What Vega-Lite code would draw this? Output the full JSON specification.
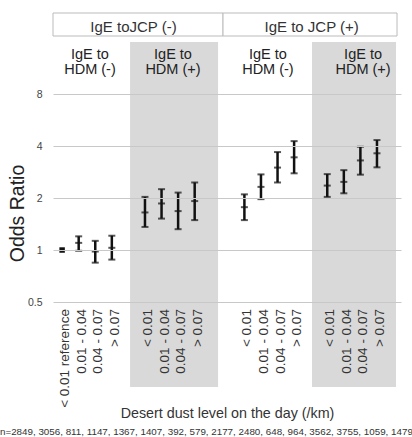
{
  "$schema": "https://vega.github.io/schema/vega-lite/v6.json",
  "width": 348,
  "height": 374,
  "autosize": {"type": "none"},
  "padding": {"left": 53, "top": 13, "right": 11, "bottom": 50},
  "background": "white",
  "config": {"view": {"stroke": null}, "font": "Liberation Sans"},
  "title": {
    "text": "n=2849, 3056, 811, 1147, 1367, 1407, 392, 579, 2177, 2480, 648, 964, 3562, 3755, 1059, 1479",
    "orient": "bottom",
    "anchor": "start",
    "frame": "group",
    "dx": -53,
    "offset": 7,
    "fontSize": 9.8,
    "fontWeight": "normal",
    "font": "Liberation Sans",
    "color": "#333"
  },
  "datasets": {
    "points": [
      {"jcp": "-", "hdm": "-", "level": "< 0.01 reference", "slot": 0, "or": 1.0, "lo": null, "hi": null},
      {"jcp": "-", "hdm": "-", "level": "0.01 - 0.04", "slot": 1, "or": 1.10, "lo": 0.99, "hi": 1.20},
      {"jcp": "-", "hdm": "-", "level": "0.04 - 0.07", "slot": 2, "or": 0.98, "lo": 0.845, "hi": 1.13},
      {"jcp": "-", "hdm": "-", "level": "> 0.07", "slot": 3, "or": 1.03, "lo": 0.88, "hi": 1.21},
      {"jcp": "-", "hdm": "+", "level": "< 0.01", "slot": 5, "or": 1.65, "lo": 1.36, "hi": 2.03},
      {"jcp": "-", "hdm": "+", "level": "0.01 - 0.04", "slot": 6, "or": 1.86, "lo": 1.52, "hi": 2.25},
      {"jcp": "-", "hdm": "+", "level": "0.04 - 0.07", "slot": 7, "or": 1.68, "lo": 1.32, "hi": 2.15},
      {"jcp": "-", "hdm": "+", "level": "> 0.07", "slot": 8, "or": 1.92, "lo": 1.49, "hi": 2.46},
      {"jcp": "+", "hdm": "-", "level": "< 0.01", "slot": 11, "or": 1.77, "lo": 1.49, "hi": 2.10},
      {"jcp": "+", "hdm": "-", "level": "0.01 - 0.04", "slot": 12, "or": 2.32, "lo": 1.97, "hi": 2.74},
      {"jcp": "+", "hdm": "-", "level": "0.04 - 0.07", "slot": 13, "or": 3.0, "lo": 2.46, "hi": 3.69},
      {"jcp": "+", "hdm": "-", "level": "> 0.07", "slot": 14, "or": 3.44, "lo": 2.78, "hi": 4.27},
      {"jcp": "+", "hdm": "+", "level": "< 0.01", "slot": 16, "or": 2.36, "lo": 2.03, "hi": 2.75},
      {"jcp": "+", "hdm": "+", "level": "0.01 - 0.04", "slot": 17, "or": 2.48, "lo": 2.13, "hi": 2.90},
      {"jcp": "+", "hdm": "+", "level": "0.04 - 0.07", "slot": 18, "or": 3.30, "lo": 2.73, "hi": 3.96},
      {"jcp": "+", "hdm": "+", "level": "> 0.07", "slot": 19, "or": 3.63, "lo": 3.01, "hi": 4.33}
    ],
    "bands": [
      {"start": 4.1, "end": 9.41},
      {"start": 15.08, "end": 20.15}
    ],
    "jcpHeaders": [
      {"label": "IgE toJCP (-)", "start": -0.55, "end": 9.71, "mid": 4.31},
      {"label": "IgE to JCP (+)", "start": 9.71, "end": 20.21, "mid": 15.06}
    ],
    "hdmHeaders": [
      {"label": "IgE to\nHDM (-)", "pos": 1.68},
      {"label": "IgE to\nHDM (+)", "pos": 6.69},
      {"label": "IgE to\nHDM (-)", "pos": 12.42},
      {"label": "IgE to\nHDM (+)", "pos": 18.16}
    ]
  },
  "layer": [
    {
      "data": {"name": "bands"},
      "mark": {"type": "rect", "color": "#d9d9d9"},
      "encoding": {
        "x": {
          "field": "start", "type": "quantitative",
          "scale": {"domain": [-0.55, 20.45], "nice": false, "zero": false},
          "axis": {
            "domain": false, "ticks": false, "labels": false, "grid": false,
            "title": "Desert dust level on the day (/km)",
            "titleFontSize": 14.3, "titleFontWeight": "normal", "titleColor": "#333",
            "titleFont": "Liberation Sans", "titlePadding": 19
          }
        },
        "x2": {"field": "end"},
        "y": {
          "datum": 0.1611, "type": "quantitative",
          "scale": {"type": "log", "domain": [0.1611, 23.55], "nice": false},
          "axis": {
            "values": [0.5, 1, 2, 4, 8],
            "domain": false, "ticks": false,
            "grid": true, "gridColor": "#c8c8c8", "gridWidth": 1,
            "labelPadding": 11, "labelFontSize": 10.5, "labelColor": "#444",
            "labelFont": "Liberation Sans",
            "title": "Odds Ratio", "titleFontSize": 19.5, "titleFontWeight": "normal",
            "titleColor": "#222", "titleFont": "Liberation Sans",
            "titleX": -35.5, "titleY": 200, "titleBaseline": "middle", "titleAlign": "center", "titleAngle": 270,
            "zindex": 1
          }
        },
        "y2": {"datum": 16}
      }
    },
    {
      "mark": {"type": "rule", "color": "#666", "strokeWidth": 1.5},
      "encoding": {"y": {"datum": 1, "type": "quantitative"}}
    },
    {
      "data": {"name": "jcpHeaders"},
      "mark": {"type": "rect", "fill": "white", "stroke": "#bbbbbb", "strokeWidth": 1},
      "encoding": {
        "x": {"field": "start", "type": "quantitative"},
        "x2": {"field": "end"},
        "y": {"datum": 17.33, "type": "quantitative"},
        "y2": {"datum": 23.55}
      }
    },
    {
      "data": {"name": "jcpHeaders"},
      "mark": {"type": "text", "fontSize": 15, "color": "#333", "baseline": "middle", "align": "center"},
      "encoding": {
        "x": {"field": "mid", "type": "quantitative"},
        "y": {"datum": 19.67, "type": "quantitative"},
        "text": {"field": "label"}
      }
    },
    {
      "data": {"name": "hdmHeaders"},
      "mark": {"type": "text", "fontSize": 14.5, "color": "#222", "baseline": "middle", "align": "center", "lineBreak": "\n", "lineHeight": 14.5},
      "encoding": {
        "x": {"field": "pos", "type": "quantitative"},
        "y": {"datum": 13.45, "type": "quantitative"},
        "text": {"field": "label"}
      }
    },
    {
      "data": {"name": "points"},
      "transform": [{"filter": "datum.lo != null"}],
      "layer": [
        {
          "mark": {"type": "rule", "color": "#111", "strokeWidth": 2.5},
          "encoding": {
            "x": {"field": "slot", "type": "quantitative"},
            "y": {"field": "lo", "type": "quantitative"},
            "y2": {"field": "hi"}
          }
        },
        {
          "mark": {"type": "tick", "orient": "horizontal", "color": "#111", "size": 7, "thickness": 2},
          "encoding": {
            "x": {"field": "slot", "type": "quantitative"},
            "y": {"field": "lo", "type": "quantitative"}
          }
        },
        {
          "mark": {"type": "tick", "orient": "horizontal", "color": "#111", "size": 7, "thickness": 2},
          "encoding": {
            "x": {"field": "slot", "type": "quantitative"},
            "y": {"field": "hi", "type": "quantitative"}
          }
        },
        {
          "mark": {"type": "tick", "orient": "horizontal", "color": "#111", "size": 7, "thickness": 2},
          "encoding": {
            "x": {"field": "slot", "type": "quantitative"},
            "y": {"field": "or", "type": "quantitative"}
          }
        }
      ]
    },
    {
      "data": {"name": "points"},
      "transform": [{"filter": "datum.lo == null"}],
      "mark": {"type": "square", "color": "#111", "filled": true, "opacity": 1, "size": 30},
      "encoding": {
        "x": {"field": "slot", "type": "quantitative"},
        "y": {"field": "or", "type": "quantitative"}
      }
    },
    {
      "data": {"name": "points"},
      "mark": {"type": "text", "angle": 270, "align": "right", "baseline": "middle", "fontSize": 13.5, "color": "#333", "dy": 3},
      "encoding": {
        "x": {"field": "slot", "type": "quantitative"},
        "y": {"datum": 0.455, "type": "quantitative"},
        "text": {"field": "level"}
      }
    }
  ]
}
